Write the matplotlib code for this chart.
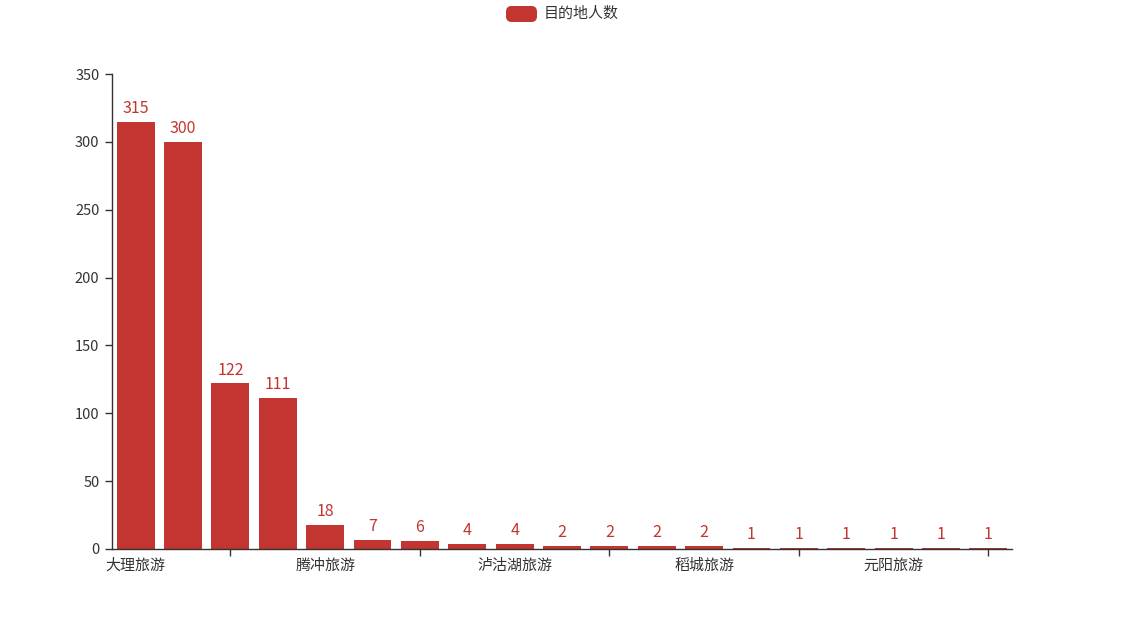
import matplotlib
matplotlib.use("Agg")
import matplotlib.pyplot as plt
from matplotlib.patches import FancyBboxPatch

plt.rcParams['font.family'] = ['Noto Sans CJK SC', 'DejaVu Sans']

categories = ["大理旅游", "丽江旅游", "香格里拉旅游", "西双版纳旅游", "腾冲旅游",
              "昆明旅游", "普者黑旅游", "抚仙湖旅游", "泸沽湖旅游", "建水旅游",
              "梅里雪山旅游", "雨崩旅游", "稻城旅游", "怒江旅游", "沙溪旅游",
              "东川红土地旅游", "元阳旅游", "罗平旅游", "独龙江旅游"]
values = [315, 300, 122, 111, 18, 7, 6, 4, 4, 2, 2, 2, 2, 1, 1, 1, 1, 1, 1]
series_name = "目的地人数"
yticks = [0, 50, 100, 150, 200, 250, 300, 350]

color = "#c23531"
txt = "#333333"

fig = plt.figure(figsize=(11.25, 6.25), dpi=100)
W, H = 1125, 625
ax = fig.add_axes([112 / W, 1 - 549 / H, 900 / W, 475 / H])

x = list(range(len(categories)))
bars = ax.bar(x, values, width=0.8, color=color)
for xi, v in zip(x, values):
    ax.annotate(str(v), (xi, v), xytext=(0, 3.5), textcoords="offset points",
                ha="center", va="bottom", color=color, fontsize=11.5)

ax.set_xlim(-0.5, len(categories) - 0.5)
ax.set_ylim(0, 350)
ax.set_yticks(yticks)
ax.set_yticklabels([str(t) for t in yticks], fontsize=10.5, color=txt)

shown = list(range(0, len(categories), 4))
ax.set_xticks(shown)
ax.set_xticklabels([categories[i] for i in shown], fontsize=10.8, color=txt)
ax.tick_params(axis="x", which="major", length=0, pad=7)
ax.set_xticks([i + 2 for i in shown if i + 2 < len(categories)], minor=True)
ax.tick_params(axis="x", which="minor", length=5, color=txt, width=1)
ax.tick_params(axis="y", length=5, color=txt, width=1, pad=4)

for s in ["top", "right"]:
    ax.spines[s].set_visible(False)
for s in ["left", "bottom"]:
    ax.spines[s].set_color(txt)
    ax.spines[s].set_linewidth(1)

# legend
lx, ly, lw, lh = 506, 6, 31, 16
patch = FancyBboxPatch((lx / W, 1 - (ly + lh) / H), lw / W, lh / H,
                       boxstyle="round,pad=0,rounding_size=0.005",
                       transform=fig.transFigure, facecolor=color, edgecolor="none",
                       mutation_aspect=W / H)
fig.patches.append(patch)
fig.text(544 / W, 1 - 14 / H, series_name, fontsize=10.8, color=txt, va="center", ha="left")

fig.savefig("out.png", dpi=100)
